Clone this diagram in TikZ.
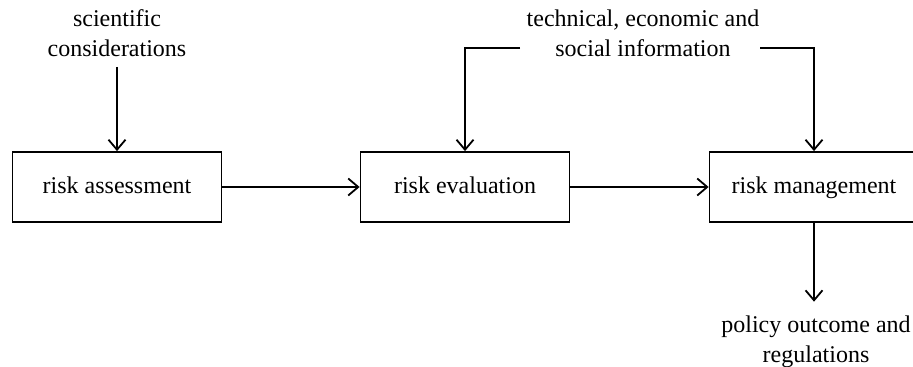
\documentclass[tikz,border=0pt]{standalone}
\usepackage{fontspec}
\setmainfont{Liberation Serif}
\usetikzlibrary{arrows.meta}

\tikzset{
  box/.style={draw, line width=0.9pt, minimum width=104.5pt, minimum height=35pt,
    inner sep=0pt, text height=8.75pt, text depth=1.75pt},
  lbl/.style={align=center, inner sep=0pt},
  flow/.style={line width=0.9pt, -{Straight Barb[length=5pt, width=8.5pt, line width=0.9pt]}},
}

\begin{document}
\begin{tikzpicture}[x=0.5pt, y=-0.5pt, font=\fontsize{12}{15}\selectfont]
        \useasboundingbox (0,0) rectangle (913,367);

        % the three boxes
        \node[box] (assess) at (117,187) {risk assessment};
        \node[box] (eval) at (465,187) {risk evaluation};
        \node[box] (manage) at (814,187) {risk management};

        % inputs and output
        \node[lbl] (sci) at (117,33) {scientific\\considerations};
        \node[lbl] (info) at (643,33) {technical, economic and\\social information};
        \node[lbl] (policy) at (816,342) {policy outcome and\\regulations};
        \coordinate (infoL) at (520,48);
        \coordinate (infoR) at (760,48);

        \draw[flow, shorten <=5pt] (sci.south) -- (assess.north);
        \draw[flow] (assess) -- (eval);
        \draw[flow] (eval) -- (manage);
        \draw[flow] (infoL) -| (eval.north);
        \draw[flow] (infoR) -| (manage.north);
        \draw[flow, shorten >=7pt] (manage.south) -- (manage.south |- policy.north);
\end{tikzpicture}
\end{document}
